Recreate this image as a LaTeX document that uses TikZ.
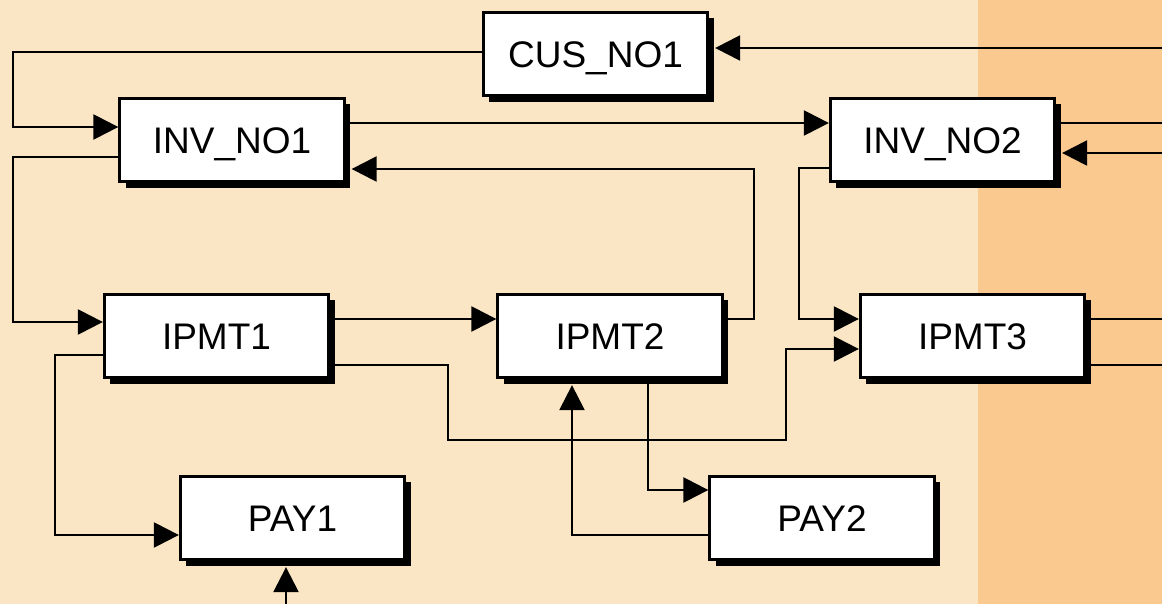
\documentclass[tikz,border=0pt]{standalone}
\usepackage{fontspec}
\setmainfont{Liberation Sans}
\usetikzlibrary{arrows.meta,calc,shadows}
\definecolor{bgmain}{RGB}{250,230,196}
\definecolor{bgside}{RGB}{249,201,144}
\begin{document}
\begin{tikzpicture}[x=1pt,y=-1pt,
  entity/.style={draw=black,line width=2.8pt,fill=white,
    minimum width=224.5pt,minimum height=83.5pt,inner sep=0pt,
    text height=27pt,text depth=0pt,
    font=\fontsize{37}{44}\selectfont,
    drop shadow={shadow xshift=6pt,shadow yshift=-6pt,fill=black,opacity=1}},
  link/.style={draw=black,line width=2.4pt},
  arr/.style={link,-{Triangle[length=25pt,width=25pt]}}]
  % canvas
  \fill[bgmain] (0,0) rectangle (978,604);
  \fill[bgside] (978,0) rectangle (1162,604);
  \useasboundingbox (0,0) rectangle (1162,604);

  % entities
  \node[entity] (cus)  at (595.5,54) {CUS\_NO1};
  \node[entity] (inv1) at (232,140)  {INV\_NO1};
  \node[entity] (inv2) at (942.5,140) {INV\_NO2};
  \node[entity] (ip1)  at (216.5,336) {IPMT1};
  \node[entity] (ip2)  at (610,336)  {IPMT2};
  \node[entity] (ip3)  at (972.5,336) {IPMT3};
  \node[entity] (pay1) at (292.5,518) {PAY1};
  \node[entity] (pay2) at (822,518)  {PAY2};

  % free ends at the picture border
  \coordinate (inCus)  at (1162,48);
  \coordinate (outInv) at (1162,123);
  \coordinate (inInv)  at (1162,153);
  \coordinate (outIpA) at (1162,319);
  \coordinate (outIpB) at (1162,365);
  \coordinate (inPay)  at (286,604);

  % connectors
  \draw[arr] ($(cus.west)+(0,-2)$) -| (13,127) -- ($(inv1.west)+(0,-13)$);
  \draw[arr] (inCus) -- ($(cus.east |- inCus)+(6,0)$);
  \draw[arr] ($(inv1.east)+(0,-17)$) -- ($(inv2.west)+(0,-17)$);
  \draw[arr] ($(inv1.west)+(0,17)$) -| (13,322) -- ($(ip1.west)+(0,-14)$);
  \draw[arr] ($(ip2.east)+(0,-17)$) -| (754,169) -- ($(inv1.east)+(6,29)$);
  \draw[arr] ($(ip1.east)+(0,-17)$) -- ($(ip2.west)+(0,-17)$);
  \draw[arr] ($(ip1.east)+(0,29)$) -| (448,440) -| (786,349) -- ($(ip3.west)+(0,13)$);
  \draw[arr] ($(inv2.west)+(0,28)$) -| (799,319) -- ($(ip3.west)+(0,-17)$);
  \draw[link] ($(inv2.east)+(0,-17)$) -- (outInv);
  \draw[arr] (inInv) -- ($(inv2.east)+(6,13)$);
  \draw[link] ($(ip3.east)+(0,-17)$) -- (outIpA);
  \draw[link] ($(ip3.east)+(0,29)$) -- (outIpB);
  \draw[arr] ($(ip1.west)+(0,19)$) -| (55,535) -- ($(pay1.west)+(0,17)$);
  \draw[arr] (inPay) -- ($(inPay |- pay1.south)+(0,6)$);
  \draw[arr] ($(ip2.south)+(38,0)$) |- ($(pay2.west)+(0,-28)$);
  \draw[arr] ($(pay2.west)+(0,17)$) -| ($(ip2.south)+(-38,6)$);
\end{tikzpicture}
\end{document}
